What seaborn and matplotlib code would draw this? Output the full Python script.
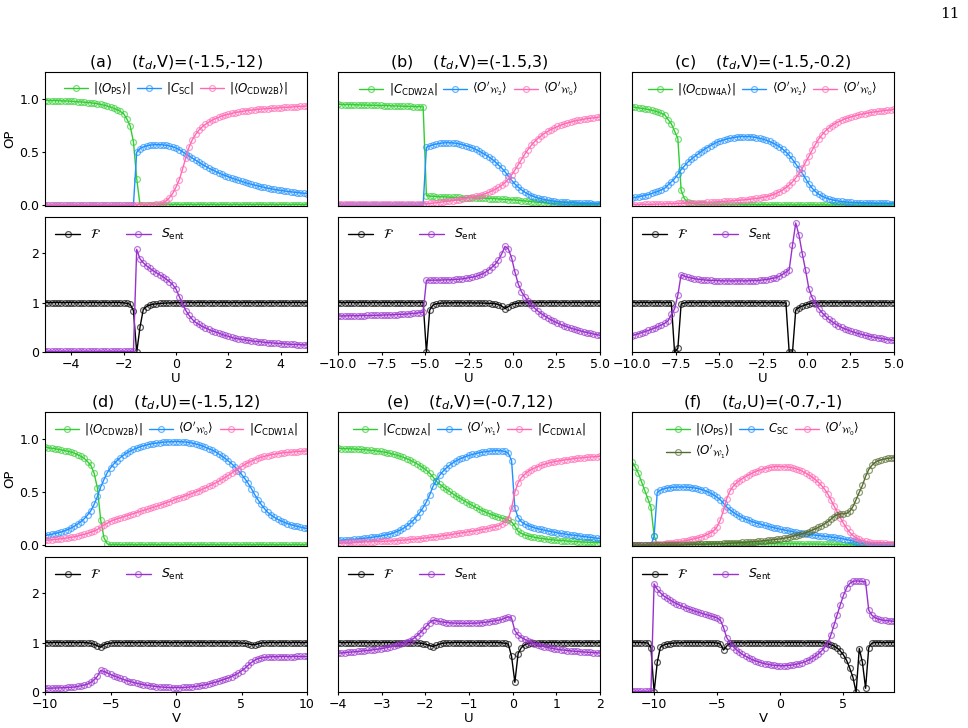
import numpy as np
import matplotlib
matplotlib.use("Agg")
import matplotlib.pyplot as plt
import seaborn as sns
from matplotlib.colors import to_rgba

sns.set_style("ticks", rc={
    "axes.edgecolor": "black", "text.color": "black", "axes.labelcolor": "black",
    "xtick.color": "black", "ytick.color": "black",
})
plt.rcParams["font.family"] = ["DejaVu Sans"]
plt.rcParams["mathtext.fontset"] = "dejavusans"

# ---- parameter scans (evenly spaced sweeps of U or V) ----
U_A = np.linspace(-5.0, 5.0, 81)
U_B = np.linspace(-10.0, 5.0, 81)
U_C = np.linspace(-10.0, 5.0, 81)
V_D = np.linspace(-10.0, 10.0, 81)
U_E = np.linspace(-4.0, 2.0, 81)
V_F = np.linspace(-11.75, 9.0, 84)

# ---- (a) (t_d,V)=(-1.5,-12) ----
A_OPS = [0.99, 0.99, 0.99, 0.989, 0.988, 0.987, 0.986, 0.985, 0.983, 0.981,
         0.978, 0.976, 0.974, 0.971, 0.968, 0.964, 0.959, 0.953, 0.946, 0.937,
         0.928, 0.917, 0.903, 0.887, 0.866, 0.815, 0.75, 0.6, 0.25, 0.005,
         0.005, 0.005, 0.005, 0.005, 0.005, 0.005, 0.005, 0.005, 0.005, 0.005,
         0.005, 0.005, 0.005, 0.005, 0.005, 0.005, 0.005, 0.005, 0.005, 0.005,
         0.005, 0.005, 0.005, 0.005, 0.005, 0.005, 0.005, 0.005, 0.005, 0.005,
         0.005, 0.005, 0.005, 0.005, 0.005, 0.005, 0.005, 0.005, 0.005, 0.005,
         0.005, 0.005, 0.005, 0.005, 0.005, 0.005, 0.005, 0.005, 0.005, 0.005,
         0.005]
A_CSC = [0, 0, 0, 0, 0, 0, 0, 0, 0, 0,
         0, 0, 0, 0, 0, 0, 0, 0, 0, 0,
         0, 0, 0, 0, 0, 0, 0, 0, 0.5, 0.535,
         0.55, 0.56, 0.567, 0.57, 0.572, 0.572, 0.57, 0.566, 0.56, 0.552,
         0.54, 0.525, 0.505, 0.485, 0.465, 0.445, 0.425, 0.405, 0.385, 0.368,
         0.35, 0.335, 0.32, 0.305, 0.292, 0.28, 0.268, 0.256, 0.245, 0.235,
         0.225, 0.215, 0.205, 0.197, 0.189, 0.181, 0.174, 0.167, 0.16, 0.154,
         0.148, 0.143, 0.138, 0.134, 0.13, 0.126, 0.122, 0.118, 0.115, 0.112,
         0.109]
A_CDW2B = [0.004, 0.004, 0.004, 0.004, 0.004, 0.004, 0.004, 0.004, 0.004, 0.004,
           0.004, 0.004, 0.004, 0.004, 0.004, 0.004, 0.004, 0.004, 0.004, 0.004,
           0.004, 0.004, 0.004, 0.004, 0.004, 0.004, 0.004, 0.004, 0.004, 0.004,
           0.004, 0.004, 0.004, 0.004, 0.006, 0.01, 0.02, 0.04, 0.07, 0.11,
           0.17, 0.24, 0.34, 0.45, 0.55, 0.62, 0.67, 0.71, 0.74, 0.765,
           0.785, 0.803, 0.818, 0.83, 0.842, 0.852, 0.86, 0.868, 0.875, 0.881,
           0.886, 0.891, 0.895, 0.899, 0.903, 0.906, 0.909, 0.912, 0.914, 0.916,
           0.918, 0.92, 0.922, 0.924, 0.926, 0.928, 0.93, 0.932, 0.934, 0.936,
           0.938]
A_FID = [1, 1, 1, 1, 1, 1, 1, 1, 1, 1,
         1, 1, 1, 1, 1, 1, 1, 1, 1, 1,
         1, 1, 1, 1, 0.995, 0.985, 0.965, 0.84, 0.0, 0.5,
         0.86, 0.92, 0.95, 0.965, 0.975, 0.982, 0.987, 0.99, 0.993, 0.995,
         0.997, 0.998, 0.999, 1, 1, 1, 1, 1, 1, 1,
         1, 1, 1, 1, 1, 1, 1, 1, 1, 1,
         1, 1, 1, 1, 1, 1, 1, 1, 1, 1,
         1, 1, 1, 1, 1, 1, 1, 1, 1, 1,
         1]
A_SENT = [0.02, 0.02, 0.02, 0.02, 0.02, 0.02, 0.02, 0.02, 0.02, 0.02,
          0.02, 0.02, 0.02, 0.02, 0.02, 0.02, 0.02, 0.02, 0.02, 0.02,
          0.02, 0.02, 0.02, 0.02, 0.02, 0.02, 0.02, 0.02, 2.07, 1.88,
          1.8, 1.74, 1.69, 1.64, 1.6, 1.56, 1.52, 1.47, 1.42, 1.36,
          1.27, 1.12, 0.97, 0.84, 0.74, 0.66, 0.6, 0.56, 0.52, 0.49,
          0.46, 0.43, 0.41, 0.39, 0.36, 0.34, 0.32, 0.3, 0.28, 0.27,
          0.26, 0.25, 0.24, 0.23, 0.22, 0.215, 0.21, 0.2, 0.195, 0.19,
          0.185, 0.18, 0.175, 0.17, 0.165, 0.16, 0.158, 0.155, 0.152, 0.15,
          0.148]

# ---- (b) (t_d,V)=(-1.5,3) ----
B_CDW2A = [0.953, 0.952, 0.952, 0.951, 0.95, 0.95, 0.949, 0.948, 0.947, 0.946,
           0.946, 0.945, 0.944, 0.943, 0.942, 0.941, 0.94, 0.939, 0.938, 0.937,
           0.936, 0.935, 0.934, 0.933, 0.932, 0.931, 0.93, 0.088, 0.085, 0.083,
           0.081, 0.079, 0.078, 0.077, 0.075, 0.074, 0.073, 0.072, 0.071, 0.07,
           0.069, 0.068, 0.067, 0.066, 0.065, 0.064, 0.062, 0.061, 0.06, 0.058,
           0.056, 0.054, 0.052, 0.05, 0.048, 0.045, 0.042, 0.039, 0.036, 0.033,
           0.03, 0.027, 0.024, 0.021, 0.018, 0.016, 0.014, 0.012, 0.01, 0.009,
           0.008, 0.007, 0.006, 0.005, 0.004, 0.004, 0.003, 0.003, 0.002, 0.002,
           0.002]
B_W2 = [0, 0, 0, 0, 0, 0, 0, 0, 0, 0,
        0, 0, 0, 0, 0, 0, 0, 0, 0, 0,
        0, 0, 0, 0, 0, 0, 0, 0.547, 0.56, 0.57,
        0.578, 0.584, 0.588, 0.59, 0.59, 0.589, 0.585, 0.579, 0.572, 0.563,
        0.553, 0.542, 0.528, 0.512, 0.495, 0.477, 0.457, 0.435, 0.41, 0.378,
        0.35, 0.315, 0.275, 0.235, 0.2, 0.17, 0.145, 0.123, 0.105, 0.09,
        0.078, 0.068, 0.06, 0.053, 0.047, 0.042, 0.037, 0.033, 0.03, 0.027,
        0.025, 0.023, 0.021, 0.019, 0.018, 0.017, 0.016, 0.015, 0.014, 0.013,
        0.012]
B_W0 = [0.008, 0.008, 0.008, 0.008, 0.008, 0.008, 0.008, 0.008, 0.008, 0.008,
        0.008, 0.008, 0.008, 0.008, 0.008, 0.008, 0.008, 0.008, 0.008, 0.008,
        0.008, 0.008, 0.008, 0.008, 0.008, 0.008, 0.008, 0.012, 0.015, 0.018,
        0.022, 0.026, 0.03, 0.034, 0.038, 0.042, 0.047, 0.052, 0.058, 0.064,
        0.07, 0.076, 0.083, 0.09, 0.098, 0.108, 0.12, 0.134, 0.15, 0.168,
        0.188, 0.212, 0.245, 0.285, 0.33, 0.38, 0.43, 0.48, 0.525, 0.565,
        0.6, 0.63, 0.655, 0.677, 0.697, 0.715, 0.73, 0.744, 0.756, 0.767,
        0.777, 0.786, 0.794, 0.801, 0.807, 0.813, 0.818, 0.822, 0.826, 0.83,
        0.834]
B_FID = [1, 1, 1, 1, 1, 1, 1, 1, 1, 1,
         1, 1, 1, 1, 1, 1, 1, 1, 1, 1,
         1, 1, 1, 1, 1, 1, 1, 0.0, 0.85, 0.95,
         0.975, 0.985, 0.99, 0.993, 0.995, 0.996, 0.996, 0.996, 0.995, 0.995,
         0.995, 0.994, 0.993, 0.992, 0.99, 0.988, 0.985, 0.98, 0.975, 0.96,
         0.93, 0.88, 0.92, 0.96, 0.98, 0.99, 0.995, 0.997, 0.998, 0.999,
         1, 1, 1, 1, 1, 1, 1, 1, 1, 1,
         1, 1, 1, 1, 1, 1, 1, 1, 1, 1,
         1]
B_SENT = [0.73, 0.731, 0.732, 0.733, 0.734, 0.735, 0.736, 0.737, 0.738, 0.74,
          0.741, 0.743, 0.745, 0.747, 0.749, 0.751, 0.753, 0.756, 0.759, 0.762,
          0.766, 0.77, 0.775, 0.781, 0.788, 0.796, 0.805, 1.45, 1.45, 1.45,
          1.451, 1.452, 1.454, 1.456, 1.458, 1.461, 1.465, 1.47, 1.477, 1.488,
          1.5, 1.51, 1.525, 1.545, 1.575, 1.61, 1.655, 1.71, 1.77, 1.86,
          1.98, 2.13, 2.08, 1.9, 1.62, 1.38, 1.22, 1.12, 1.03, 0.96,
          0.89, 0.83, 0.78, 0.735, 0.695, 0.655, 0.62, 0.59, 0.56, 0.535,
          0.51, 0.488, 0.467, 0.448, 0.43, 0.413, 0.397, 0.382, 0.368, 0.355,
          0.342]

# ---- (c) (t_d,V)=(-1.5,-0.2) ----
C_CDW4A = [0.93, 0.925, 0.92, 0.915, 0.91, 0.905, 0.898, 0.89, 0.88, 0.868,
           0.855, 0.81, 0.77, 0.7, 0.63, 0.14, 0.06, 0.03, 0.018, 0.012,
           0.009, 0.007, 0.006, 0.005, 0.005, 0.004, 0.004, 0.004, 0.003, 0.003,
           0.003, 0.003, 0.003, 0.003, 0.003, 0.003, 0.003, 0.003, 0.003, 0.003,
           0.003, 0.003, 0.003, 0.003, 0.003, 0.002, 0.002, 0.002, 0.002, 0.002,
           0.002, 0.002, 0.002, 0.002, 0.002, 0.002, 0.002, 0.002, 0.002, 0.002,
           0.001, 0.001, 0.001, 0.001, 0.001, 0.001, 0.001, 0.001, 0.001, 0.001,
           0.001, 0.001, 0.001, 0.001, 0.001, 0.001, 0.001, 0.001, 0.001, 0.001,
           0.001]
C_W2 = [0.066, 0.072, 0.079, 0.085, 0.09, 0.1, 0.11, 0.12, 0.13, 0.145,
        0.16, 0.19, 0.22, 0.25, 0.29, 0.335, 0.37, 0.405, 0.432, 0.457,
        0.48, 0.503, 0.525, 0.545, 0.563, 0.58, 0.595, 0.607, 0.617, 0.626,
        0.633, 0.639, 0.644, 0.647, 0.649, 0.649, 0.647, 0.644, 0.639, 0.632,
        0.624, 0.614, 0.602, 0.588, 0.572, 0.553, 0.53, 0.503, 0.47, 0.432,
        0.39, 0.345, 0.3, 0.25, 0.2, 0.16, 0.128, 0.103, 0.085, 0.07,
        0.059, 0.05, 0.043, 0.038, 0.034, 0.031, 0.028, 0.026, 0.024, 0.022,
        0.021, 0.02, 0.019, 0.018, 0.017, 0.016, 0.016, 0.015, 0.015, 0.014,
        0.014]
C_W0 = [0.004, 0.004, 0.005, 0.005, 0.006, 0.006, 0.007, 0.008, 0.009, 0.01,
        0.011, 0.012, 0.013, 0.014, 0.015, 0.016, 0.017, 0.018, 0.019, 0.02,
        0.021, 0.022, 0.024, 0.025, 0.027, 0.029, 0.031, 0.033, 0.035, 0.037,
        0.039, 0.041, 0.043, 0.046, 0.049, 0.052, 0.055, 0.059, 0.063, 0.067,
        0.073, 0.08, 0.088, 0.098, 0.11, 0.125, 0.143, 0.165, 0.19, 0.22,
        0.255, 0.3, 0.35, 0.405, 0.46, 0.52, 0.575, 0.625, 0.665, 0.7,
        0.728, 0.752, 0.772, 0.788, 0.802, 0.815, 0.826, 0.836, 0.845, 0.853,
        0.86, 0.866, 0.872, 0.877, 0.882, 0.886, 0.89, 0.894, 0.898, 0.901,
        0.905]
C_FID = [1, 1, 1, 1, 1, 1, 1, 1, 1, 1,
         1, 1, 1, 0.0, 0.08, 0.97, 0.995, 1, 1, 1,
         1, 1, 1, 1, 1, 1, 1, 1, 1, 1,
         1, 1, 1, 1, 1, 1, 1, 1, 1, 1,
         1, 1, 1, 1, 1, 1, 1, 0.99, 0.0, 0.0,
         0.85, 0.9, 0.93, 0.955, 0.975, 0.988, 0.995, 1, 1, 1,
         1, 1, 1, 1, 1, 1, 1, 1, 1, 1,
         1, 1, 1, 1, 1, 1, 1, 1, 1, 1,
         1]
C_SENT = [0.335, 0.355, 0.375, 0.395, 0.418, 0.44, 0.465, 0.49, 0.52, 0.55,
          0.585, 0.63, 0.76, 0.87, 1.15, 1.56, 1.53, 1.51, 1.495, 1.48,
          1.47, 1.462, 1.455, 1.45, 1.446, 1.443, 1.44, 1.438, 1.436, 1.435,
          1.435, 1.435, 1.435, 1.435, 1.436, 1.437, 1.438, 1.44, 1.442, 1.448,
          1.455, 1.462, 1.475, 1.487, 1.5, 1.53, 1.57, 1.61, 1.66, 2.15,
          2.6, 2.35, 1.98, 1.65, 1.28, 1.1, 0.98, 0.88, 0.8, 0.73,
          0.67, 0.62, 0.575, 0.535, 0.5, 0.47, 0.445, 0.42, 0.4, 0.38,
          0.362, 0.345, 0.33, 0.315, 0.302, 0.29, 0.278, 0.267, 0.257, 0.247,
          0.238]

# ---- (d) (t_d,U)=(-1.5,12) ----
D_CDW2B = [0.925, 0.921, 0.917, 0.912, 0.906, 0.9, 0.895, 0.888, 0.88, 0.87,
           0.855, 0.84, 0.82, 0.79, 0.755, 0.68, 0.54, 0.24, 0.07, 0.012,
           0.003, 0.003, 0.003, 0.003, 0.003, 0.003, 0.003, 0.003, 0.003, 0.003,
           0.003, 0.003, 0.003, 0.003, 0.003, 0.003, 0.003, 0.003, 0.003, 0.003,
           0.003, 0.003, 0.003, 0.003, 0.003, 0.003, 0.003, 0.003, 0.003, 0.003,
           0.003, 0.003, 0.003, 0.003, 0.003, 0.003, 0.003, 0.003, 0.003, 0.003,
           0.003, 0.003, 0.003, 0.003, 0.003, 0.003, 0.003, 0.003, 0.003, 0.003,
           0.003, 0.003, 0.003, 0.003, 0.003, 0.003, 0.003, 0.003, 0.003, 0.003,
           0.003]
D_W0 = [0.09, 0.096, 0.102, 0.109, 0.116, 0.125, 0.135, 0.147, 0.162, 0.18,
        0.2, 0.222, 0.25, 0.285, 0.325, 0.385, 0.46, 0.55, 0.62, 0.685,
        0.73, 0.768, 0.8, 0.828, 0.852, 0.872, 0.89, 0.905, 0.918, 0.93,
        0.94, 0.948, 0.955, 0.961, 0.966, 0.97, 0.973, 0.976, 0.978, 0.979,
        0.979, 0.979, 0.978, 0.975, 0.97, 0.965, 0.958, 0.949, 0.938, 0.926,
        0.913, 0.9, 0.885, 0.864, 0.843, 0.82, 0.795, 0.77, 0.74, 0.705,
        0.67, 0.63, 0.585, 0.535, 0.48, 0.43, 0.385, 0.345, 0.31, 0.285,
        0.263, 0.245, 0.23, 0.216, 0.204, 0.194, 0.185, 0.177, 0.17, 0.163,
        0.157]
D_CDW1A = [0.044, 0.047, 0.05, 0.053, 0.056, 0.06, 0.064, 0.068, 0.073, 0.079,
           0.086, 0.094, 0.102, 0.111, 0.121, 0.133, 0.148, 0.17, 0.19, 0.207,
           0.225, 0.237, 0.248, 0.258, 0.268, 0.278, 0.288, 0.298, 0.308, 0.318,
           0.328, 0.337, 0.347, 0.357, 0.367, 0.377, 0.389, 0.4, 0.412, 0.423,
           0.435, 0.446, 0.457, 0.468, 0.479, 0.49, 0.503, 0.515, 0.528, 0.542,
           0.556, 0.571, 0.587, 0.604, 0.622, 0.641, 0.661, 0.682, 0.703, 0.724,
           0.744, 0.763, 0.78, 0.795, 0.809, 0.821, 0.831, 0.84, 0.848, 0.855,
           0.861, 0.866, 0.87, 0.874, 0.877, 0.88, 0.883, 0.885, 0.887, 0.889,
           0.891]
D_FID = [1, 1, 1, 1, 1, 1, 1, 1, 1, 1,
         1, 1, 1, 0.995, 0.985, 0.965, 0.935, 0.905, 0.955, 0.98,
         0.99, 0.995, 1, 1, 1, 1, 1, 1, 1, 1,
         1, 1, 1, 1, 1, 1, 1, 1, 1, 1,
         1, 1, 1, 1, 1, 1, 1, 1, 1, 1,
         1, 1, 1, 1, 1, 1, 1, 1, 0.998, 0.995,
         0.99, 0.985, 0.975, 0.96, 0.955, 0.975, 0.99, 0.997, 1, 1,
         1, 1, 1, 1, 1, 1, 1, 1, 1, 1,
         1]
D_SENT = [0.08, 0.082, 0.084, 0.086, 0.088, 0.091, 0.094, 0.097, 0.101, 0.106,
          0.12, 0.13, 0.145, 0.165, 0.2, 0.25, 0.32, 0.44, 0.42, 0.39,
          0.36, 0.33, 0.305, 0.28, 0.258, 0.236, 0.216, 0.198, 0.182, 0.167,
          0.154, 0.143, 0.133, 0.124, 0.116, 0.11, 0.104, 0.1, 0.097, 0.095,
          0.094, 0.095, 0.097, 0.1, 0.105, 0.111, 0.118, 0.127, 0.138, 0.152,
          0.168, 0.185, 0.203, 0.222, 0.243, 0.266, 0.29, 0.317, 0.348, 0.385,
          0.43, 0.48, 0.54, 0.6, 0.645, 0.675, 0.693, 0.704, 0.71, 0.714,
          0.716, 0.717, 0.718, 0.718, 0.719, 0.719, 0.719, 0.72, 0.72, 0.72,
          0.72]

# ---- (e) (t_d,V)=(-0.7,12) ----
E_CDW2A = [0.915, 0.914, 0.913, 0.912, 0.911, 0.909, 0.907, 0.905, 0.903, 0.9,
           0.897, 0.894, 0.89, 0.886, 0.881, 0.875, 0.868, 0.86, 0.851, 0.841,
           0.83, 0.818, 0.804, 0.789, 0.772, 0.753, 0.732, 0.709, 0.68, 0.645,
           0.605, 0.578, 0.553, 0.53, 0.508, 0.487, 0.467, 0.448, 0.43, 0.412,
           0.392, 0.375, 0.358, 0.342, 0.327, 0.313, 0.3, 0.288, 0.277, 0.266,
           0.256, 0.247, 0.237, 0.22, 0.18, 0.13, 0.11, 0.097, 0.087, 0.08,
           0.074, 0.068, 0.063, 0.059, 0.055, 0.051, 0.048, 0.045, 0.043, 0.041,
           0.038, 0.036, 0.034, 0.032, 0.03, 0.029, 0.027, 0.026, 0.025, 0.024,
           0.022]
E_W1 = [0.044, 0.046, 0.048, 0.05, 0.052, 0.055, 0.058, 0.061, 0.064, 0.068,
        0.072, 0.076, 0.081, 0.086, 0.092, 0.098, 0.106, 0.116, 0.128, 0.142,
        0.16, 0.18, 0.205, 0.235, 0.27, 0.31, 0.355, 0.41, 0.475, 0.555,
        0.61, 0.66, 0.697, 0.728, 0.755, 0.777, 0.796, 0.812, 0.826, 0.838,
        0.849, 0.858, 0.866, 0.873, 0.879, 0.884, 0.888, 0.891, 0.893, 0.894,
        0.892, 0.886, 0.87, 0.8, 0.35, 0.26, 0.22, 0.2, 0.185, 0.173,
        0.163, 0.155, 0.148, 0.141, 0.134, 0.128, 0.122, 0.116, 0.111, 0.106,
        0.101, 0.097, 0.093, 0.089, 0.085, 0.081, 0.077, 0.073, 0.069, 0.065,
        0.061]
E_CDW1A = [0.022, 0.023, 0.024, 0.025, 0.026, 0.027, 0.028, 0.029, 0.03, 0.031,
           0.032, 0.033, 0.034, 0.035, 0.036, 0.037, 0.039, 0.041, 0.043, 0.045,
           0.047, 0.05, 0.053, 0.056, 0.059, 0.062, 0.065, 0.068, 0.072, 0.076,
           0.08, 0.084, 0.088, 0.092, 0.097, 0.102, 0.107, 0.112, 0.117, 0.122,
           0.127, 0.132, 0.137, 0.142, 0.148, 0.154, 0.16, 0.167, 0.175, 0.184,
           0.2, 0.22, 0.25, 0.35, 0.5, 0.59, 0.64, 0.67, 0.695, 0.715,
           0.73, 0.743, 0.755, 0.765, 0.774, 0.782, 0.789, 0.795, 0.8, 0.805,
           0.81, 0.814, 0.818, 0.822, 0.825, 0.828, 0.831, 0.834, 0.836, 0.838,
           0.84]
E_FID = [1, 1, 1, 1, 1, 1, 1, 1, 1, 1,
         1, 1, 1, 1, 1, 1, 1, 1, 1, 1,
         1, 1, 1, 0.998, 0.995, 0.988, 0.978, 0.962, 0.94, 0.92,
         0.945, 0.97, 0.985, 0.993, 0.997, 1, 1, 1, 1, 1,
         1, 1, 1, 1, 1, 1, 1, 1, 1, 1,
         0.995, 0.985, 0.97, 0.72, 0.2, 0.78, 0.9, 0.955, 0.98, 0.993,
         1, 1, 1, 1, 1, 1, 1, 1, 1, 1,
         1, 1, 1, 1, 1, 1, 1, 1, 1, 1,
         1]
E_SENT = [0.785, 0.791, 0.797, 0.803, 0.809, 0.815, 0.821, 0.828, 0.835, 0.841,
          0.848, 0.857, 0.866, 0.876, 0.887, 0.9, 0.914, 0.929, 0.946, 0.963,
          0.985, 1.01, 1.04, 1.08, 1.13, 1.19, 1.26, 1.33, 1.4, 1.45,
          1.44, 1.425, 1.412, 1.403, 1.397, 1.393, 1.39, 1.388, 1.387, 1.387,
          1.388, 1.389, 1.391, 1.393, 1.4, 1.408, 1.418, 1.428, 1.438, 1.448,
          1.465, 1.49, 1.52, 1.49, 1.24, 1.15, 1.1, 1.065, 1.035, 1.005,
          0.978, 0.955, 0.935, 0.917, 0.901, 0.887, 0.875, 0.864, 0.855, 0.847,
          0.84, 0.833, 0.827, 0.821, 0.816, 0.811, 0.806, 0.802, 0.798, 0.794,
          0.79]

# ---- (f) (t_d,U)=(-0.7,-1) ----
F_OPS = [0.79, 0.74, 0.68, 0.6, 0.52, 0.44, 0.36, 0.09, 0.005, 0.005,
         0.006, 0.006, 0.006, 0.007, 0.007, 0.007, 0.008, 0.008, 0.008, 0.009,
         0.009, 0.009, 0.01, 0.01, 0.01, 0.011, 0.011, 0.011, 0.012, 0.012,
         0.012, 0.012, 0.012, 0.012, 0.012, 0.012, 0.012, 0.012, 0.012, 0.012,
         0.012, 0.012, 0.012, 0.012, 0.012, 0.012, 0.012, 0.012, 0.012, 0.012,
         0.012, 0.012, 0.012, 0.011, 0.011, 0.011, 0.01, 0.01, 0.01, 0.009,
         0.009, 0.008, 0.008, 0.007, 0.006, 0.005, 0.004, 0.003, 0.002, 0.002,
         0.001, 0.001, 0.001, 0.001, 0.001, 0.001, 0.001, 0.001, 0.001, 0.001,
         0.001, 0.001, 0.001, 0.001]
F_CSC = [0, 0, 0, 0, 0, 0, 0, 0.085, 0.5, 0.52,
         0.532, 0.539, 0.544, 0.547, 0.549, 0.55, 0.55, 0.549, 0.547, 0.544,
         0.54, 0.534, 0.526, 0.517, 0.505, 0.49, 0.472, 0.452, 0.428, 0.395,
         0.36, 0.335, 0.312, 0.292, 0.275, 0.26, 0.246, 0.234, 0.223, 0.213,
         0.204, 0.195, 0.187, 0.179, 0.171, 0.164, 0.157, 0.15, 0.144, 0.138,
         0.132, 0.126, 0.12, 0.115, 0.11, 0.106, 0.102, 0.098, 0.094, 0.09,
         0.087, 0.083, 0.08, 0.076, 0.072, 0.068, 0.063, 0.058, 0.052, 0.045,
         0.038, 0.03, 0.022, 0.015, 0.009, 0.004, 0.002, 0, 0, 0,
         0, 0, 0, 0]
F_W0 = [0.005, 0.005, 0.005, 0.005, 0.005, 0.005, 0.005, 0.008, 0.01, 0.012,
        0.014, 0.017, 0.02, 0.024, 0.028, 0.032, 0.037, 0.042, 0.048, 0.054,
        0.061, 0.069, 0.078, 0.089, 0.102, 0.118, 0.14, 0.175, 0.24, 0.33,
        0.44, 0.51, 0.555, 0.585, 0.61, 0.63, 0.648, 0.665, 0.68, 0.694,
        0.706, 0.716, 0.725, 0.732, 0.737, 0.741, 0.743, 0.743, 0.742, 0.74,
        0.736, 0.73, 0.722, 0.712, 0.698, 0.682, 0.665, 0.645, 0.622, 0.595,
        0.565, 0.53, 0.485, 0.43, 0.37, 0.315, 0.26, 0.205, 0.16, 0.12,
        0.09, 0.068, 0.053, 0.042, 0.034, 0.028, 0.024, 0.021, 0.018, 0.016,
        0.015, 0.014, 0.013, 0.012]
F_W1 = [0, 0, 0, 0, 0, 0, 0, 0, 0, 0,
        0, 0, 0, 0, 0, 0, 0.001, 0.002, 0.003, 0.004,
        0.005, 0.006, 0.007, 0.008, 0.009, 0.01, 0.011, 0.012, 0.013, 0.015,
        0.016, 0.018, 0.019, 0.021, 0.023, 0.025, 0.027, 0.029, 0.031, 0.033,
        0.036, 0.039, 0.042, 0.045, 0.048, 0.051, 0.055, 0.059, 0.064, 0.069,
        0.075, 0.082, 0.09, 0.098, 0.107, 0.117, 0.128, 0.14, 0.153, 0.167,
        0.182, 0.2, 0.22, 0.245, 0.27, 0.288, 0.295, 0.296, 0.3, 0.32,
        0.365, 0.43, 0.5, 0.565, 0.65, 0.715, 0.755, 0.782, 0.798, 0.808,
        0.815, 0.82, 0.824, 0.827]
F_FID = [1, 1, 1, 1, 1, 0.99, 0.9, 0.0, 0.6, 0.91,
         0.95, 0.97, 0.98, 0.988, 0.993, 0.996, 0.998, 1, 1, 1,
         1, 1, 1, 1, 1, 1, 0.998, 0.99, 0.97, 0.85,
         0.93, 0.985, 0.995, 1, 1, 1, 1, 1, 1, 1,
         1, 1, 1, 1, 1, 1, 1, 1, 1, 1,
         1, 1, 1, 1, 1, 1, 1, 1, 1, 1,
         0.998, 0.993, 0.98, 0.96, 0.93, 0.89, 0.83, 0.75, 0.64, 0.48,
         0.3, 0.0, 0.88, 0.6, 0.08, 0.9, 0.99, 1, 1, 1,
         1, 1, 1, 1]
F_SENT = [0.02, 0.02, 0.02, 0.02, 0.02, 0.02, 0.02, 2.18, 2.07, 2.0,
          1.94, 1.9, 1.86, 1.82, 1.785, 1.755, 1.728, 1.702, 1.677, 1.653,
          1.63, 1.61, 1.59, 1.57, 1.552, 1.534, 1.515, 1.495, 1.45, 1.3,
          1.1, 1.0, 0.92, 0.86, 0.81, 0.76, 0.725, 0.69, 0.66, 0.635,
          0.612, 0.593, 0.576, 0.562, 0.551, 0.542, 0.536, 0.533, 0.533, 0.536,
          0.542, 0.551, 0.563, 0.578, 0.597, 0.62, 0.648, 0.682, 0.722, 0.77,
          0.83, 0.9, 0.99, 1.15, 1.35, 1.56, 1.76, 1.95, 2.1, 2.19,
          2.23, 2.24, 2.235, 2.23, 2.22, 1.65, 1.55, 1.5, 1.47, 1.455,
          1.445, 1.438, 1.432, 1.428]

# ---- labels and styles ----
GREEN, BLUE, PINK = "limegreen", "dodgerblue", "hotpink"
OLIVE, PURPLE, BLACK = "darkolivegreen", "darkorchid", "black"

LBL_OPS = r"$|\langle O_{\rm PS}\rangle|$"
LBL_CSC_ABS = r"$|C_{\rm SC}|$"
LBL_CSC = r"$C_{\rm SC}$"
LBL_CDW2B = r"$|\langle O_{\rm CDW2B}\rangle|$"
LBL_CDW4A = r"$|\langle O_{\rm CDW4A}\rangle|$"
LBL_C2A = r"$|C_{\rm CDW2A}|$"
LBL_C1A = r"$|C_{\rm CDW1A}|$"
LBL_W0 = r"$\langle O'_{\mathcal{W}_0}\rangle$"
LBL_W1 = r"$\langle O'_{\mathcal{W}_1}\rangle$"
LBL_W2 = r"$\langle O'_{\mathcal{W}_2}\rangle$"
LBL_FID = r"$\mathcal{F}$"
LBL_SENT = r"$S_{\rm ent}$"

PANELS = [
    dict(title=r"(a)    ($t_d$,V)=(-1.5,-12)", x=U_A, xlabel="U", xlim=(-5, 5),
         xticks=[-4, -2, 0, 2, 4],
         top=[(LBL_OPS, A_OPS, GREEN), (LBL_CSC_ABS, A_CSC, BLUE), (LBL_CDW2B, A_CDW2B, PINK)],
         bottom=[(LBL_FID, A_FID, BLACK), (LBL_SENT, A_SENT, PURPLE)]),
    dict(title=r"(b)    ($t_d$,V)=(-1.5,3)", x=U_B, xlabel="U", xlim=(-10, 5),
         xticks=[-10, -7.5, -5, -2.5, 0, 2.5, 5],
         top=[(LBL_C2A, B_CDW2A, GREEN), (LBL_W2, B_W2, BLUE), (LBL_W0, B_W0, PINK)],
         bottom=[(LBL_FID, B_FID, BLACK), (LBL_SENT, B_SENT, PURPLE)]),
    dict(title=r"(c)    ($t_d$,V)=(-1.5,-0.2)", x=U_C, xlabel="U", xlim=(-10, 5),
         xticks=[-10, -7.5, -5, -2.5, 0, 2.5, 5],
         top=[(LBL_CDW4A, C_CDW4A, GREEN), (LBL_W2, C_W2, BLUE), (LBL_W0, C_W0, PINK)],
         bottom=[(LBL_FID, C_FID, BLACK), (LBL_SENT, C_SENT, PURPLE)]),
    dict(title=r"(d)    ($t_d$,U)=(-1.5,12)", x=V_D, xlabel="V", xlim=(-10, 10),
         xticks=[-10, -5, 0, 5, 10],
         top=[(LBL_CDW2B, D_CDW2B, GREEN), (LBL_W0, D_W0, BLUE), (LBL_C1A, D_CDW1A, PINK)],
         bottom=[(LBL_FID, D_FID, BLACK), (LBL_SENT, D_SENT, PURPLE)]),
    dict(title=r"(e)    ($t_d$,V)=(-0.7,12)", x=U_E, xlabel="U", xlim=(-4, 2),
         xticks=[-4, -3, -2, -1, 0, 1, 2],
         top=[(LBL_C2A, E_CDW2A, GREEN), (LBL_W1, E_W1, BLUE), (LBL_C1A, E_CDW1A, PINK)],
         bottom=[(LBL_FID, E_FID, BLACK), (LBL_SENT, E_SENT, PURPLE)]),
    dict(title=r"(f)    ($t_d$,U)=(-0.7,-1)", x=V_F, xlabel="V", xlim=(-11.75, 9.0),
         xticks=[-10, -5, 0, 5],
         top=[(LBL_OPS, F_OPS, GREEN), (LBL_CSC, F_CSC, BLUE), (LBL_W0, F_W0, PINK),
              (LBL_W1, F_W1, OLIVE)],
         legend_order=[0, 3, 1, 2],
         bottom=[(LBL_FID, F_FID, BLACK), (LBL_SENT, F_SENT, PURPLE)]),
]


def draw_curve(ax, x, y, color, label):
    sns.lineplot(x=x, y=y, ax=ax, color=color, linewidth=1.0, marker="o",
                 markersize=4.2, markerfacecolor="none",
                 markeredgecolor=to_rgba(color, 0.65), markeredgewidth=0.9,
                 label=label, estimator=None, sort=False)


def box(left, top, w, h):
    return [left / 968, 1 - (top + h) / 728, w / 968, h / 728]


fig = plt.figure(figsize=(9.68, 7.28), dpi=100)
COL_LEFT = [45, 338, 632]
ROW_TOP = [72, 412]

for k, p in enumerate(PANELS):
    r, c = divmod(k, 3)
    ax_t = fig.add_axes(box(COL_LEFT[c], ROW_TOP[r], 262, 133.6))
    ax_b = fig.add_axes(box(COL_LEFT[c], ROW_TOP[r] + 145, 262, 135.3))

    for label, y, color in p["top"]:
        draw_curve(ax_t, p["x"], y, color, label)
    for label, y, color in p["bottom"]:
        draw_curve(ax_b, p["x"], y, color, label)

    handles, labels = ax_t.get_legend_handles_labels()
    order = p.get("legend_order", list(range(len(handles))))
    ax_t.legend([handles[i] for i in order], [labels[i] for i in order],
                loc="upper center", ncol=3, frameon=False, fontsize=8.6,
                handlelength=2.0, handletextpad=0.45, columnspacing=0.5,
                borderaxespad=0.4, borderpad=0.3)
    ax_b.legend(loc="upper left", ncol=2, frameon=False, fontsize=9,
                handlelength=2.0, handletextpad=0.8, columnspacing=2.0,
                borderaxespad=0.4)

    for ax in (ax_t, ax_b):
        ax.set_xlim(*p["xlim"])
        ax.tick_params(length=2.5, pad=1.5, labelsize=9, width=0.8)
        ax.set_xlabel("")
        ax.set_ylabel("")
    ax_t.set_ylim(-0.005, 1.26)
    ax_b.set_ylim(0, 2.72)
    ax_t.set_xticks([])
    ax_b.set_xticks(p["xticks"])
    ax_b.set_xlabel(p["xlabel"], fontsize=9.5, labelpad=1)
    ax_t.set_title(p["title"], fontsize=11.5, pad=2)

    if c == 0:
        ax_t.set_yticks([0.0, 0.5, 1.0])
        ax_b.set_yticks([0, 1, 2])
        ax_t.set_ylabel("OP", fontsize=9.5, labelpad=2)
    else:
        ax_t.set_yticks([])
        ax_b.set_yticks([])

fig.text(950 / 968, 1 - 14 / 728, "11", ha="center", va="center",
         fontsize=11, family="DejaVu Serif")

fig.savefig("out.png", dpi=100)
